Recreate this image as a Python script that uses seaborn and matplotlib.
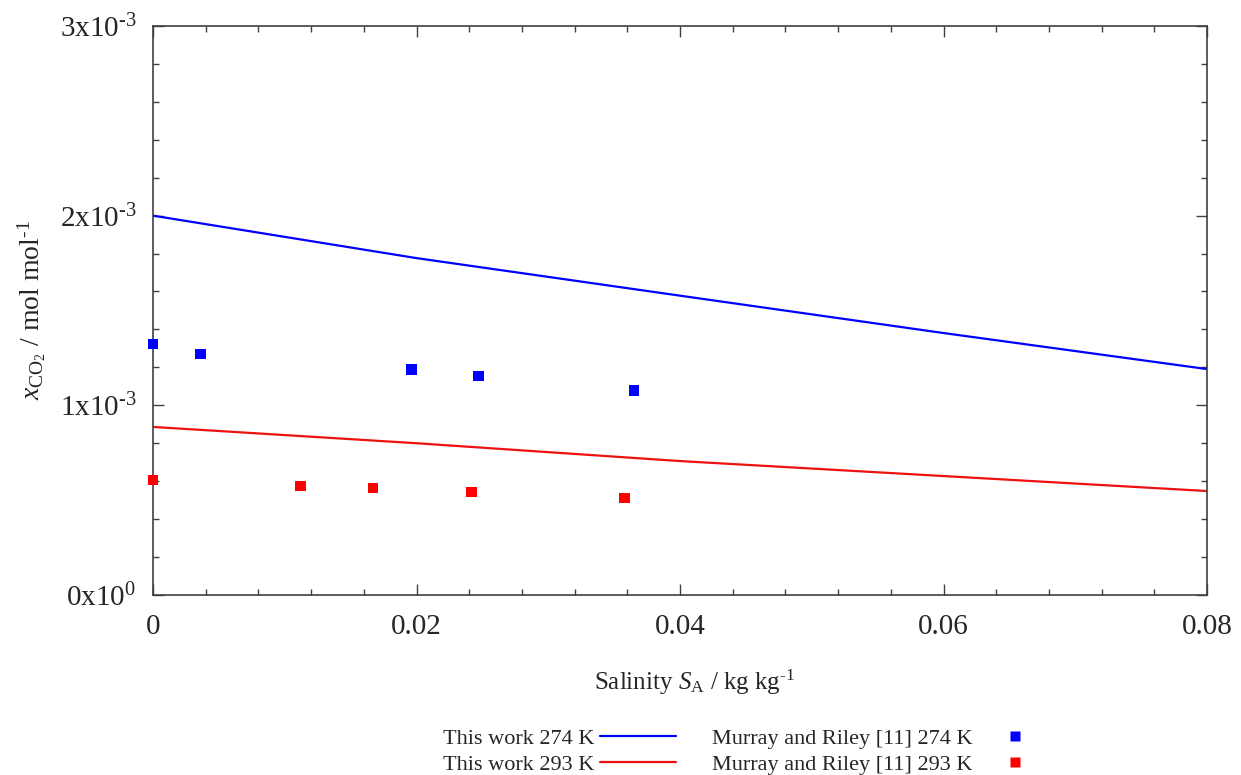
import numpy as np
import pandas as pd
import matplotlib
matplotlib.use("Agg")
import matplotlib.pyplot as plt
from matplotlib.ticker import MultipleLocator, FuncFormatter
from matplotlib.lines import Line2D
import seaborn as sns

# model curves (this work)
sal_model = [0.0, 0.02, 0.04, 0.06, 0.08]
x_274 = [2.00e-3, 1.776e-3, 1.578e-3, 1.381e-3, 1.191e-3]
x_293 = [0.886e-3, 0.800e-3, 0.706e-3, 0.627e-3, 0.548e-3]

# Murray and Riley data
sal_mr_274 = [0.0, 0.0036, 0.0196, 0.0247, 0.0365]
x_mr_274 = [1.323e-3, 1.270e-3, 1.190e-3, 1.155e-3, 1.080e-3]
sal_mr_293 = [0.0, 0.0112, 0.0167, 0.0242, 0.0358]
x_mr_293 = [0.606e-3, 0.575e-3, 0.564e-3, 0.543e-3, 0.511e-3]

HY = "\u2010"  # gnuplot-style hyphen in exponents

sns.set_style("ticks")
plt.rcParams['font.family'] = ['Liberation Serif', 'DejaVu Serif']
plt.rcParams['mathtext.fontset'] = 'custom'
plt.rcParams['mathtext.rm'] = 'Liberation Serif'
plt.rcParams['mathtext.it'] = 'Liberation Serif:italic'
plt.rcParams['mathtext.bf'] = 'Liberation Serif:bold'

fig = plt.figure(figsize=(12.41, 7.75), dpi=100)
ax = fig.add_axes([0.1233, 0.2323, 0.8493, 0.7342])

lines = pd.DataFrame({
    "S": sal_model * 2,
    "x": x_274 + x_293,
    "series": ["This work 274 K"] * 5 + ["This work 293 K"] * 5,
})
pts = pd.DataFrame({
    "S": sal_mr_274 + sal_mr_293,
    "x": x_mr_274 + x_mr_293,
    "series": ["Murray and Riley [11] 274 K"] * 5 + ["Murray and Riley [11] 293 K"] * 5,
})

sns.lineplot(data=lines, x="S", y="x", hue="series",
             palette=["#0000ff", "#ee1111"], linewidth=1.6, ax=ax, legend=False)
sns.scatterplot(data=pts, x="S", y="x", hue="series",
                palette=["#0000ff", "#ff0000"], marker="s", s=60,
                edgecolor="none", ax=ax, legend=False, clip_on=False, zorder=5)

ax.set_xlim(0, 0.08)
ax.set_ylim(0, 3e-3)
ax.xaxis.set_major_locator(MultipleLocator(0.02))
ax.xaxis.set_minor_locator(MultipleLocator(0.004))
ax.yaxis.set_major_locator(MultipleLocator(1e-3))
ax.yaxis.set_minor_locator(MultipleLocator(0.2e-3))


def xfmt(v, pos):
    if abs(v) < 1e-12:
        return "0"
    return "%g" % v


def yfmt(v, pos):
    if abs(v) < 1e-12:
        return r"$0\mathrm{x}10^{0}$"
    return r"$%d\mathrm{x}10^{\mathrm{%s3}}$" % (round(v * 1e3), HY)


ax.xaxis.set_major_formatter(FuncFormatter(xfmt))
ax.yaxis.set_major_formatter(FuncFormatter(yfmt))

axis_col = "#404040"
for sp in ax.spines.values():
    sp.set_visible(True)
    sp.set_color(axis_col)
    sp.set_linewidth(1.2)
ax.tick_params(which="both", direction="in", top=True, right=True,
               color=axis_col, width=1.0, labelsize=21)
ax.tick_params(which="major", length=8)
ax.tick_params(which="minor", length=4.5)
ax.tick_params(axis="x", which="major", pad=14)
ax.tick_params(axis="y", which="major", pad=12)

ax.set_xlabel(r"Salinity $S_{\mathrm{A}}$ / kg kg$^{\mathrm{%s1}}$" % HY,
              fontsize=18)
ax.xaxis.set_label_coords(0.514, -0.128)
ax.set_ylabel(r"$x_{\mathrm{CO_2}}$ / mol mol$^{\mathrm{%s1}}$" % HY,
              fontsize=20, labelpad=8)

handles = [
    Line2D([], [], color="#0000ff", lw=1.6),
    Line2D([], [], color="#ee1111", lw=1.6),
    Line2D([], [], color="#0000ff", marker="s", ls="none", ms=7, mec="none"),
    Line2D([], [], color="#ff0000", marker="s", ls="none", ms=7, mec="none"),
]
labels = ["This work 274 K", "This work 293 K",
          "Murray and Riley [11] 274 K", "Murray and Riley [11] 293 K"]
fig.legend(handles, labels, ncol=2, markerfirst=False, frameon=False,
           loc="center", bbox_to_anchor=(0.603, 0.030), fontsize=16,
           handlelength=3.4, columnspacing=1.6, labelspacing=0.25,
           handletextpad=0.25, borderpad=0.2)

fig.savefig("out.png", dpi=100)
